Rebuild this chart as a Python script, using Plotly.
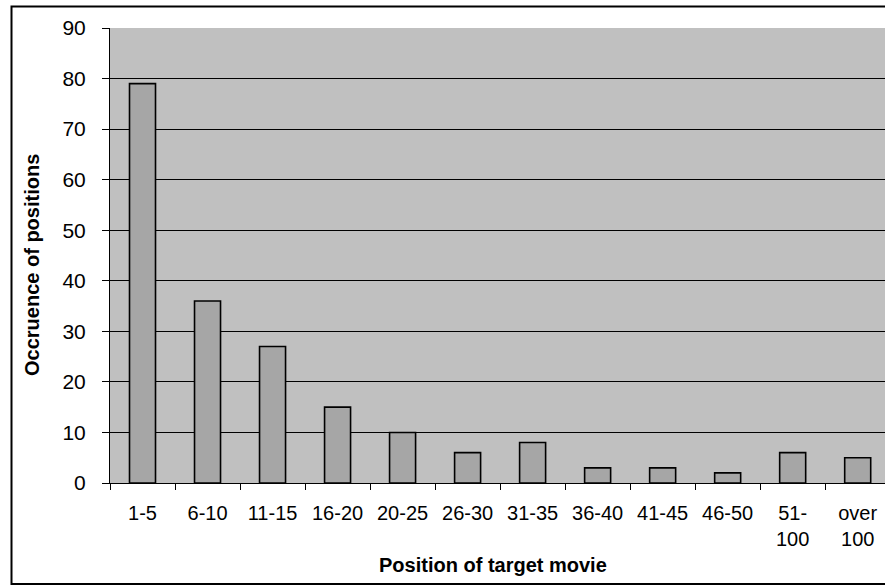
import plotly.graph_objects as go

# Histogram of where the target movie landed in the ranked list
categories = ["1-5", "6-10", "11-15", "16-20", "20-25", "26-30", "31-35",
              "36-40", "41-45", "46-50", "51-<br>100", "over<br>100"]
occurrences = [79, 36, 27, 15, 10, 6, 8, 3, 3, 2, 6, 5]
y_ticks = list(range(0, 100, 10))

W, H = 885, 586
ML, MR, MT, MB = 110, 0, 28, 103
plot_w = W - ML - MR
plot_h = H - MT - MB

FONT = "Liberation Sans, Arial, sans-serif"

fig = go.Figure(
    go.Bar(
        x=categories,
        y=occurrences,
        width=0.4,
        marker=dict(color="#A6A6A6", line=dict(color="#000000", width=1.6)),
    )
)


def px_to_paper_x(px):
    return (px - ML) / plot_w


def px_to_paper_y(py):
    return (H - MB - py) / plot_h


fig.update_layout(
    width=W,
    height=H,
    margin=dict(l=ML, r=MR, t=MT, b=MB, pad=0),
    paper_bgcolor="white",
    plot_bgcolor="#C0C0C0",
    showlegend=False,
    font=dict(family=FONT, color="black", size=18),
    bargap=0.6,
    xaxis=dict(
        type="category",
        range=[-0.5, 11.42],
        tickson="boundaries",
        ticks="outside",
        ticklen=6,
        tickwidth=1,
        tickcolor="black",
        showline=True,
        linecolor="black",
        linewidth=1,
        showgrid=False,
        tickangle=0,
        tickfont=dict(size=20, family=FONT),
        ticklabelstandoff=12,
    ),
    yaxis=dict(
        range=[0, 90],
        tickvals=y_ticks,
        ticks="outside",
        ticklen=7,
        tickwidth=1,
        tickcolor="black",
        showline=True,
        linecolor="black",
        linewidth=1,
        showgrid=True,
        gridcolor="black",
        gridwidth=1,
        zeroline=False,
        tickfont=dict(size=21, family=FONT),
        ticklabelstandoff=12,
    ),
    annotations=[
        dict(
            text="<b>Position of target movie</b>",
            xref="paper", yref="paper",
            x=px_to_paper_x(493), y=px_to_paper_y(565),
            xanchor="center", yanchor="middle",
            showarrow=False,
            font=dict(size=20, family=FONT),
        ),
        dict(
            text="<b>Occruence of positions</b>",
            xref="paper", yref="paper",
            x=px_to_paper_x(32), y=px_to_paper_y(265),
            xanchor="center", yanchor="middle",
            textangle=-90,
            showarrow=False,
            font=dict(size=20, family=FONT),
        ),
    ],
    shapes=[
        dict(
            type="rect",
            xref="paper", yref="paper",
            x0=px_to_paper_x(11.5), x1=px_to_paper_x(W + 20),
            y0=px_to_paper_y(584), y1=px_to_paper_y(6.5),
            line=dict(color="black", width=2),
            fillcolor="rgba(0,0,0,0)",
            layer="above",
        )
    ],
)

fig.write_html("out.html")
